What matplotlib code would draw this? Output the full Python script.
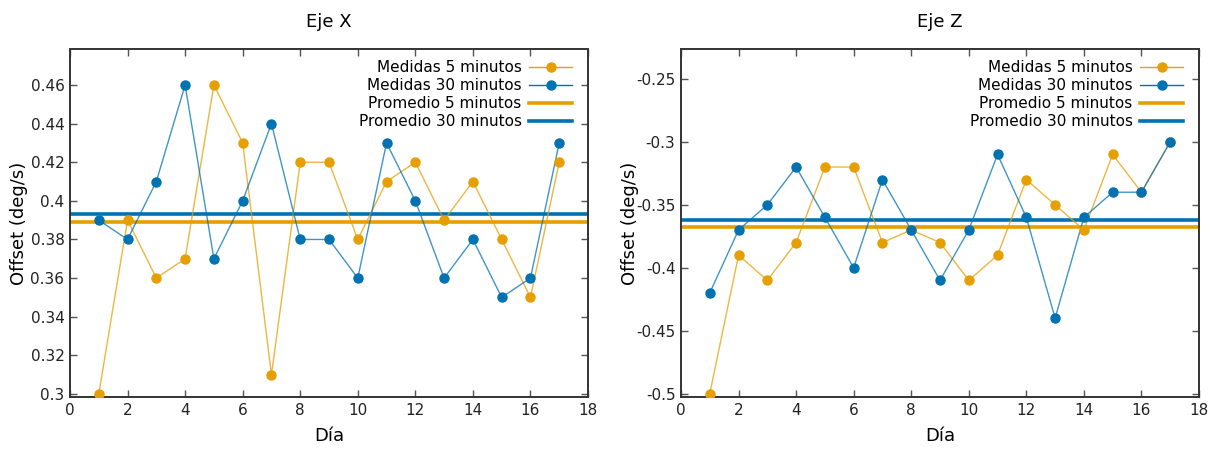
import matplotlib
matplotlib.use("Agg")
import matplotlib.pyplot as plt
from matplotlib.lines import Line2D

dias = list(range(1, 18))

x_5min = [0.30, 0.39, 0.36, 0.37, 0.46, 0.43, 0.31, 0.42, 0.42, 0.38, 0.41, 0.42, 0.39, 0.41, 0.38, 0.35, 0.42]
x_30min = [0.39, 0.38, 0.41, 0.46, 0.37, 0.40, 0.44, 0.38, 0.38, 0.36, 0.43, 0.40, 0.36, 0.38, 0.35, 0.36, 0.43]
x_prom_5 = 0.389
x_prom_30 = 0.393

z_5min = [-0.50, -0.39, -0.41, -0.38, -0.32, -0.32, -0.38, -0.37, -0.38, -0.41, -0.39, -0.33, -0.35, -0.37, -0.31, -0.34, -0.30]
z_30min = [-0.42, -0.37, -0.35, -0.32, -0.36, -0.40, -0.33, -0.37, -0.41, -0.37, -0.31, -0.36, -0.44, -0.36, -0.34, -0.34, -0.30]
z_prom_5 = -0.368
z_prom_30 = -0.362

labels = ["Medidas 5 minutos", "Medidas 30 minutos", "Promedio 5 minutos", "Promedio 30 minutos"]
x_yticks = [0.30, 0.32, 0.34, 0.36, 0.38, 0.40, 0.42, 0.44, 0.46]
x_yticklabels = ["0.3", "0.32", "0.34", "0.36", "0.38", "0.4", "0.42", "0.44", "0.46"]
z_yticks = [-0.50, -0.45, -0.40, -0.35, -0.30, -0.25]
z_yticklabels = ["-0.5", "-0.45", "-0.4", "-0.35", "-0.3", "-0.25"]
xticks = list(range(0, 19, 2))

ORANGE = "#E69F00"
BLUE = "#0072B2"

plt.rcParams['font.family'] = ['DejaVu Sans']

fig = plt.figure(figsize=(12.15, 4.49), dpi=100)
W, H = 1215, 449
ax1 = fig.add_axes([70 / W, 1 - 397 / H, 518 / W, 347.5 / H])
ax2 = fig.add_axes([681 / W, 1 - 397 / H, 518 / W, 347.5 / H])

MS = 6.5


def draw(ax, s5, s30, p5, p30, ylim, yticks, yticklabels, title, xpix):
    ax.plot(dias, s5, color=ORANGE, lw=1.0, alpha=0.75, zorder=3)
    ax.plot(dias, s5, 'o', color=ORANGE, ms=MS, zorder=4)
    ax.plot(dias, s30, color=BLUE, lw=1.0, alpha=0.75, zorder=3)
    ax.plot(dias, s30, 'o', color=BLUE, ms=MS, zorder=4)
    ax.axhline(p5, color=ORANGE, lw=2.6, zorder=2)
    ax.axhline(p30, color=BLUE, lw=2.6, zorder=2)
    ax.set_xlim(0, 18)
    ax.set_ylim(*ylim)
    ax.set_xticks(xticks)
    ax.set_yticks(yticks)
    ax.set_yticklabels(yticklabels)
    ax.tick_params(direction='in', top=True, right=True, length=5, width=1,
                   color='#555555', labelsize=11, pad=4, labelcolor='#222222')
    for sp in ax.spines.values():
        sp.set_color('#333333')
        sp.set_linewidth(1.4)
    ax.set_title(title, fontsize=13, pad=16)
    ax.set_xlabel("Día", fontsize=13, labelpad=7)
    ax.set_ylabel("Offset (deg/s)", fontsize=13)
    ax.yaxis.set_label_coords((xpix - (ax.get_position().x0 * W)) / (518), 0.5)
    ax.yaxis.label.set_va('center')
    handles = [
        Line2D([], [], color=ORANGE, lw=1.0, marker='o', ms=MS, markerfacecolor=ORANGE,
               markeredgecolor=ORANGE),
        Line2D([], [], color=BLUE, lw=1.0, marker='o', ms=MS, markerfacecolor=BLUE,
               markeredgecolor=BLUE),
        Line2D([], [], color=ORANGE, lw=2.6),
        Line2D([], [], color=BLUE, lw=2.6),
    ]
    leg = ax.legend(handles, labels, loc='upper right', markerfirst=False, frameon=False,
                    fontsize=11, handlelength=2.8, handletextpad=0.5, labelspacing=0.2,
                    borderaxespad=0.3, bbox_to_anchor=(0.99, 1.0))
    for t in leg.get_texts():
        t.set_ha('right')


draw(ax1, x_5min, x_30min, x_prom_5, x_prom_30, (0.2984, 0.4784), x_yticks, x_yticklabels, "Eje X", 19)
draw(ax2, z_5min, z_30min, z_prom_5, z_prom_30, (-0.5027, -0.2266), z_yticks, z_yticklabels, "Eje Z", 630)

fig.savefig("out.png", dpi=100)
